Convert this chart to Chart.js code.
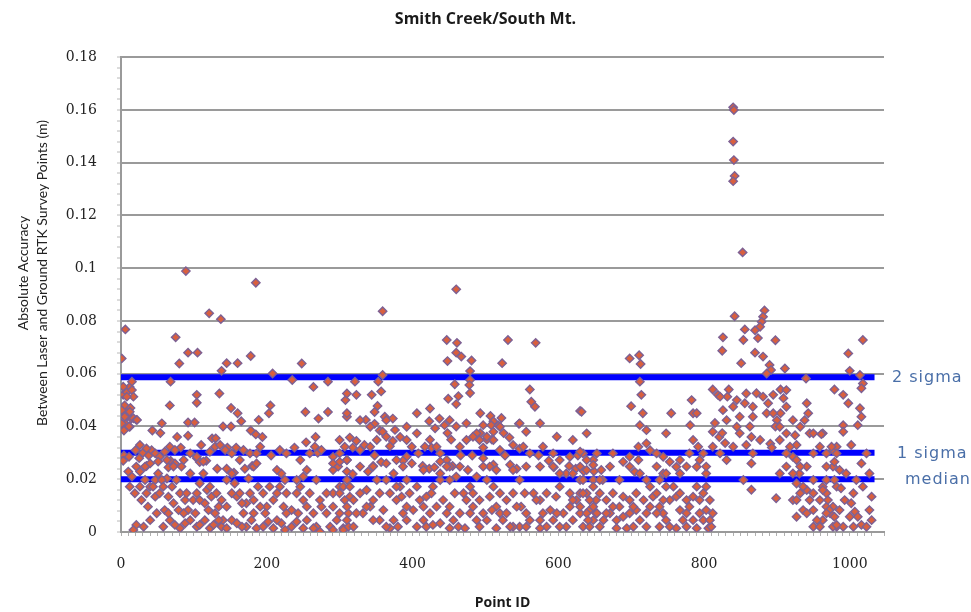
<!DOCTYPE html>
<html>
<head>
<meta charset="utf-8">
<script src="https://cdn.jsdelivr.net/npm/chart.js@4.4.1/dist/chart.umd.min.js"></script>
<style>
  html, body { margin: 0; padding: 0; background: #fff; }
  #wrap { width: 971px; height: 612px; }
</style>
</head>
<body>
<div id="wrap"><canvas id="accChart" width="971" height="612"></canvas></div>
<script>
const chartTitle = 'Smith Creek/South Mt.';
const yTitleLines = ['Absolute Accuracy', 'Between Laser and Ground RTK Survey Points (m)'];
const xTitle = 'Point ID';

// reference lines (m)
const refNames = ['2 sigma', '1 sigma', 'median'];
const refValues = [0.0587, 0.0300, 0.0200];
const refRange = [0, 1034];

// x / y axis ranges
const xRange = [0, 1047];
const yRange = [0, 0.18];

// [point id, absolute accuracy (m)]
const surveyPoints = [
  // ids 0 - 310, upper part
  [185,0.0945],[89,0.0989],[121,0.0829],[137,0.0807],[6,0.0768],[75,0.0738],[1,0.0658],[92,0.068],[105,0.068],
  [80,0.0639],[145,0.064],[160,0.064],[178,0.0667],[138,0.0611],[208,0.0601],[248,0.0639],[235,0.0576],[68,0.057],
  [3,0.052],[8,0.053],[12,0.055],[15,0.057],[5,0.048],[2,0.045],[10,0.046],[14,0.043],[6,0.041],[9,0.044],[13,0.047],
  [3,0.0551],[15,0.0538],[17,0.0513],[8,0.0513],[1,0.0462],[12,0.0456],[5,0.0437],[17,0.0431],[1,0.0411],[12,0.0399],[21,0.0425],
  [104,0.052],[104,0.049],[135,0.0525],[264,0.055],[284,0.057],[308,0.050],[67,0.048],[253,0.0455],[271,0.043],
  [284,0.0455],[151,0.047],[160,0.045],[165,0.042],[205,0.048],[203,0.045],[22,0.0425],[11,0.040],[4,0.0385],
  [56,0.0412],[43,0.0385],[54,0.0375],[92,0.0415],[101,0.0415],[140,0.040],[151,0.040],[178,0.0385],[189,0.0425],
  [185,0.037],[194,0.036],[77,0.036],[92,0.0365],[110,0.033],[125,0.0355],[130,0.0355],[82,0.032],[146,0.032],
  [158,0.032],[238,0.032],[254,0.034],[267,0.036],[206,0.029],[270,0.030],[4,0.029],[3,0.027],[11,0.0285],[20,0.031],
  [25,0.028],[30,0.030],[38,0.029],[42,0.031],[35,0.025],[68,0.027],[74,0.026],[65,0.0245],[104,0.028],[108,0.0265],
  [117,0.027],[132,0.024],[145,0.024],[155,0.0225],[170,0.024],[180,0.025],
  [26,0.033],[35,0.0317],[47,0.0298],[53,0.0285],[60,0.0304],[67,0.0323],[74,0.0311],[40,0.026],[51,0.0267],[33,0.0248],
  [63,0.0273],[72,0.0248],[86,0.0273],[95,0.0298],[104,0.0285],[113,0.0267],[122,0.0304],[129,0.0323],[136,0.033],
  [143,0.0311],[152,0.0298],[163,0.0273],[168,0.0311],[177,0.0298],[186,0.0298],[191,0.0323],[218,0.0311],[227,0.0298],
  [246,0.0273],[259,0.0298],[266,0.0323],[275,0.0311],[291,0.0285],[300,0.0298],[310,0.0273],[291,0.0235],
  // ids 0 - 315, lower part
  [10,0.0229],[15,0.021],[21,0.0248],[26,0.0229],[33,0.0197],[40,0.0172],[47,0.0197],[51,0.0222],[35,0.0147],
  [28,0.0121],[37,0.0096],[47,0.0134],[53,0.0147],[21,0.0027],[17,0.0008],[31,0.002],[63,0.0203],[70,0.0172],
  [76,0.0197],[83,0.0248],[81,0.0147],[88,0.0121],[92,0.0083],[99,0.0121],[108,0.0184],[118,0.0159],[115,0.0109],
  [120,0.0083],[124,0.0134],[129,0.0071],[134,0.0096],[104,0.0147],[95,0.0222],[113,0.0222],[145,0.0197],[152,0.0222],
  [159,0.0134],[163,0.0147],[168,0.0071],[172,0.0109],[182,0.0121],[188,0.0172],[195,0.0147],[200,0.0096],[209,0.0121],
  [218,0.0172],[220,0.0222],[227,0.0147],[234,0.0083],[241,0.0197],[246,0.0172],[250,0.0121],[259,0.0147],[268,0.0197],
  [275,0.0096],[282,0.0071],[291,0.0147],[298,0.0248],[300,0.0172],[310,0.0197],[314,0.0134],[67,0.0045],[74,0.0027],
  [81,0.0014],[88,0.0033],[95,0.0045],[104,0.002],[108,0.0027],[122,0.0014],[138,0.002],[145,0.0014],[152,0.0045],
  [159,0.0033],[172,0.002],[186,0.0014],[202,0.0039],[209,0.0014],[220,0.0033],[225,0.0008],[234,0.002],[250,0.0014],
  [268,0.002],[273,0.0001],[287,0.002],[296,0.0045],[305,0.0014],[60,0.0083],[65,0.0071],[140,0.0045],[175,0.0203],
  [182,0.0248],[186,0.026],[214,0.0235],[225,0.0197],[255,0.0235],[291,0.026],[300,0.0266],[310,0.0229],[250,0.021],
  [12,0.0172],[19,0.0147],[26,0.0172],[44,0.0172],[56,0.0197],[58,0.0172],[65,0.0134],[72,0.0109],[79,0.0083],
  [86,0.0071],[90,0.0147],[102,0.0071],[108,0.0121],[122,0.0172],[131,0.0147],[138,0.0121],[145,0.0096],[152,0.0147],
  [156,0.0184],[166,0.0109],[177,0.0147],[182,0.0071],[191,0.0096],[198,0.0071],[204,0.0172],[214,0.0147],[223,0.0096],
  [227,0.0071],[241,0.0147],[243,0.0071],[255,0.0096],[264,0.0071],[273,0.0121],[282,0.0147],[291,0.0096],[300,0.0071],
  [307,0.0121],[312,0.0071],[49,0.0071],[40,0.0045],[58,0.002],[115,0.0045],[127,0.0027],[134,0.0045],[166,0.002],
  [179,0.0045],[195,0.002],[214,0.0045],[241,0.0039],[255,0.0045],[264,0.0014],[291,0.0008],[312,0.002],
  // ids 300 - 650, upper part
  [460,0.092],[359,0.0837],[447,0.0728],[461,0.0717],[531,0.0728],[569,0.0717],[523,0.064],[448,0.0648],[460,0.068],
  [467,0.0665],[481,0.065],[479,0.061],[479,0.0576],[478,0.0557],[479,0.0527],[458,0.056],[463,0.0515],[449,0.0505],
  [460,0.0485],[359,0.0595],[353,0.057],[357,0.0533],[321,0.057],[310,0.0525],[323,0.052],[344,0.052],[561,0.054],
  [563,0.0494],[568,0.0475],[630,0.0459],[406,0.045],[424,0.0468],[310,0.0437],[352,0.0478],[348,0.0455],[362,0.0437],
  [373,0.043],[336,0.0425],[348,0.041],[355,0.0385],[359,0.038],[423,0.042],[437,0.043],[444,0.0405],[448,0.0375],
  [453,0.035],[460,0.040],[493,0.045],[507,0.044],[511,0.042],[497,0.0405],[508,0.0405],[522,0.0432],[518,0.0404],
  [511,0.038],[525,0.0375],[509,0.035],[546,0.041],[533,0.0358],[538,0.033],[547,0.0316],[493,0.0375],[502,0.035],
  [497,0.032],[314,0.0358],[323,0.0345],[318,0.032],[334,0.033],[383,0.036],[373,0.0345],[369,0.0325],[424,0.035],
  [426,0.032],[627,0.029],[318,0.022],[392,0.0285],[387,0.027],[348,0.029],[357,0.0265],[346,0.025],[414,0.025],
  [423,0.024],[430,0.0245],[455,0.025],[466,0.029],[482,0.029],[497,0.028],[511,0.0255],[527,0.029],[534,0.0255],
  [543,0.024],[573,0.029],[587,0.027],[594,0.0245],[615,0.025],[624,0.024],[635,0.023],[649,0.023],
  [310,0.045],[328,0.0424],[342,0.0399],[364,0.0424],[376,0.0387],[392,0.0399],[406,0.0374],[431,0.0393],[451,0.0424],
  [474,0.0412],[488,0.0374],[520,0.0399],[547,0.0412],[556,0.038],[575,0.0412],[598,0.0361],[620,0.0349],[639,0.0374],
  [300,0.0349],[307,0.0323],[328,0.0311],[342,0.0323],[351,0.0349],[364,0.0361],[392,0.0349],[399,0.0323],[408,0.0298],
  [417,0.0323],[433,0.0323],[438,0.0298],[447,0.0273],[465,0.0323],[474,0.0349],[483,0.0361],[492,0.0349],[502,0.0361],
  [511,0.0349],[520,0.0311],[552,0.0323],[561,0.0298],[579,0.0323],[593,0.0298],[602,0.0273],[616,0.0285],[634,0.0298],
  [648,0.0273],[310,0.0273],[328,0.0248],[339,0.0229],[346,0.0248],[364,0.026],[378,0.0273],[387,0.0248],[399,0.026],
  [438,0.0267],[451,0.0248],[465,0.0248],[476,0.0235],[506,0.0248],[515,0.0235],[538,0.0235],[556,0.0248],[575,0.0248],
  [593,0.0248],[611,0.0222],[639,0.0235],
  // ids 300 - 650, lower part
  [300,0.0147],[305,0.0172],[310,0.0096],[319,0.0121],[328,0.0147],[337,0.0159],[342,0.0096],[332,0.0071],[310,0.0045],
  [319,0.002],[305,0.0008],[364,0.0197],[374,0.0222],[369,0.0147],[378,0.0121],[383,0.0172],[392,0.0197],[396,0.0147],
  [387,0.0071],[374,0.0045],[369,0.0014],[380,0.002],[392,0.0045],[401,0.0083],[410,0.0121],[419,0.0134],[428,0.0172],
  [438,0.0197],[433,0.0096],[424,0.0071],[415,0.0045],[406,0.002],[438,0.0033],[447,0.0071],[456,0.0045],[463,0.002],
  [470,0.0147],[479,0.0172],[474,0.0121],[483,0.0096],[488,0.0045],[497,0.0071],[492,0.002],[502,0.0197],[511,0.0172],
  [506,0.0134],[515,0.0096],[520,0.0071],[529,0.0121],[524,0.0045],[515,0.0014],[538,0.0147],[547,0.0197],[549,0.0096],
  [556,0.0071],[561,0.0045],[566,0.0147],[575,0.0121],[579,0.0071],[589,0.0083],[584,0.002],[593,0.0045],[597,0.0134],
  [602,0.0172],[607,0.0071],[616,0.0096],[620,0.0045],[611,0.002],[625,0.0121],[630,0.0071],[639,0.0147],[643,0.0083],
  [648,0.0045],[652,0.0121],[575,0.0014],[547,0.002],[538,0.002],[351,0.0197],[355,0.0147],[346,0.0121],[355,0.0045],
  [451,0.0197],[460,0.021],[447,0.0248],[438,0.0222],[488,0.021],[497,0.0248],[415,0.0235],[620,0.0222],[602,0.0222],
  [630,0.0197],[648,0.0197],
  [314,0.0172],[323,0.0071],[337,0.0096],[346,0.0045],[360,0.0083],[364,0.002],[378,0.0172],[385,0.0134],[392,0.0096],
  [406,0.0172],[415,0.0096],[419,0.002],[426,0.0147],[442,0.0121],[451,0.0096],[458,0.0147],[465,0.0071],[472,0.0014],
  [479,0.0071],[483,0.0147],[492,0.0121],[502,0.0045],[509,0.0083],[520,0.0147],[529,0.0071],[534,0.002],[543,0.0096],
  [554,0.0147],[556,0.002],[570,0.0121],[575,0.0045],[584,0.0147],[598,0.0071],[602,0.002],[616,0.0147],[620,0.0121],
  [630,0.0147],[634,0.002],[643,0.002],[652,0.0071],[451,0.0014],[428,0.0027],
  // ids 630 - 1000, upper part
  [840,0.161],[841,0.160],[840,0.148],[841,0.141],[842,0.135],[840,0.133],[853,0.106],
  [842,0.0818],[883,0.084],[881,0.0816],[879,0.0797],[877,0.0778],[856,0.0768],[854,0.0728],[870,0.0765],[874,0.0735],
  [898,0.0727],[826,0.0738],[825,0.0687],[698,0.0658],[711,0.067],[713,0.0637],[851,0.064],[870,0.068],[881,0.0665],
  [890,0.0633],[892,0.0614],[886,0.0601],[911,0.062],[940,0.0582],[712,0.057],[714,0.052],[700,0.0477],[716,0.045],
  [712,0.0405],[721,0.0386],[755,0.045],[783,0.05],[785,0.045],[781,0.0405],[790,0.045],[632,0.0456],[812,0.054],
  [819,0.052],[832,0.0513],[834,0.054],[845,0.05],[856,0.0488],[815,0.0413],[812,0.038],[821,0.036],[829,0.0337],
  [825,0.0375],[867,0.0437],[863,0.04],[865,0.036],[858,0.033],[867,0.0298],[865,0.026],[872,0.0526],[881,0.0513],
  [888,0.0488],[895,0.052],[905,0.054],[909,0.0507],[913,0.0475],[905,0.045],[900,0.0424],[898,0.04],[891,0.0335],
  [893,0.032],[925,0.0367],[927,0.033],[913,0.0298],[922,0.0285],[931,0.0222],[945,0.0374],[950,0.0374],[963,0.0374],
  [941,0.0488],[943,0.045],[938,0.0424],[979,0.054],[968,0.0298],[977,0.031],[854,0.0197],[865,0.016],[899,0.0128],
  [630,0.0304],[634,0.0197],[648,0.0254],[659,0.0235],[661,0.0197],[689,0.0266],[698,0.0285],[710,0.0323],[721,0.0336],
  [726,0.031],[735,0.0298],[705,0.0228],[748,0.0374],[744,0.0285],[753,0.0266],[762,0.0247],[767,0.0222],[785,0.0349],
  [792,0.0323],[780,0.0298],[799,0.0298],[790,0.0247],[803,0.0222],
  [822,0.0513],[840,0.0475],[858,0.0525],[867,0.0475],[886,0.045],[913,0.0538],[922,0.0424],[932,0.0399],[904,0.0399],
  [895,0.045],[826,0.0462],[849,0.0437],
  [639,0.0273],[653,0.0298],[671,0.0248],[675,0.0298],[698,0.0248],[710,0.0273],[735,0.0248],[744,0.0222],[767,0.0273],
  [776,0.0248],[794,0.0273],[803,0.0248],[812,0.0323],[822,0.0298],[831,0.0273],[840,0.0323],[845,0.0399],[831,0.0424],
  [849,0.0374],[877,0.0349],[904,0.0349],[913,0.0374],[918,0.0323],[927,0.0273],[941,0.0248],[950,0.0298],[959,0.0323],
  [977,0.0248],[982,0.0323],[630,0.0248],[712,0.0222],
  // ids 630 - 1000, lower part
  [634,0.0147],[643,0.0121],[639,0.0071],[648,0.0096],[657,0.0147],[666,0.0121],[662,0.0045],[671,0.0071],[675,0.0147],
  [684,0.0096],[680,0.0045],[689,0.0134],[698,0.0071],[694,0.0014],[703,0.002],[707,0.0083],[707,0.0147],[721,0.0197],
  [726,0.0172],[730,0.0134],[735,0.0147],[739,0.0096],[744,0.0071],[748,0.0045],[739,0.002],[753,0.0121],[758,0.0172],
  [762,0.0134],[767,0.0083],[771,0.0045],[762,0.0014],[776,0.002],[780,0.0096],[785,0.0134],[790,0.0172],[794,0.0071],
  [799,0.0045],[803,0.0083],[808,0.0121],[806,0.0014],[790,0.0014],[810,0.002],[712,0.0045],[721,0.0071],[684,0.0197],
  [657,0.0197],[648,0.0172],[927,0.0184],[932,0.0147],[922,0.0121],[941,0.0159],[945,0.0121],[950,0.0083],[959,0.0121],
  [968,0.0147],[973,0.0071],[963,0.0045],[977,0.0096],[982,0.002],[950,0.002],[927,0.0058],[936,0.0083],[913,0.0248],
  [904,0.0222],[922,0.0222],[932,0.0248],[950,0.0197],[963,0.0172],[982,0.0172],
  [630,0.0096],[641,0.0045],[653,0.0071],[657,0.002],[666,0.0071],[675,0.0096],[680,0.0014],[689,0.0058],[698,0.0121],
  [703,0.0096],[717,0.0121],[721,0.002],[726,0.0096],[735,0.0071],[744,0.0121],[748,0.0172],[753,0.002],[767,0.0147],
  [776,0.0121],[776,0.0071],[785,0.0045],[794,0.0121],[799,0.0147],[808,0.0045],[803,0.0172],[812,0.0071],[739,0.0197],
  [748,0.0222],[927,0.0121],[941,0.0071],[950,0.0147],[955,0.0045],[968,0.0096],[977,0.002],[959,0.002],[936,0.0172],
  [968,0.0197],
  // ids 960 - 1035
  [1018,0.0728],[998,0.0677],[1000,0.0611],[1014,0.0595],[1018,0.0563],[1016,0.0545],[991,0.052],[998,0.0488],
  [1014,0.0469],[1016,0.0437],[1011,0.0405],[991,0.0405],[991,0.038],[961,0.0371],[1002,0.033],[975,0.0323],
  [1023,0.0298],[1016,0.026],[979,0.0266],[986,0.0235],[988,0.0166],[979,0.0197],[963,0.0159],[970,0.0121],
  [972,0.0083],[979,0.0058],[993,0.0121],[1002,0.0109],[1007,0.0077],[1000,0.0058],[1030,0.0134],[1027,0.0083],
  [1030,0.0045],[1016,0.0027],[991,0.002],[1005,0.002],
  [968,0.0248],[982,0.0298],[995,0.0222],[1009,0.0197],[1005,0.0147],[1018,0.0172],[1027,0.0222],[968,0.0071],
  [986,0.0083],[1011,0.0058],[1023,0.002],[982,0.0027]
];

const isMultiple = (v, step) => Math.abs(v / step - Math.round(v / step)) < 1e-6;

// text that sits outside the axes: rotated y title and the labels of the reference lines
const sideText = {
  id: 'sideText',
  afterDraw(chart) {
    const c = chart.ctx;
    const y = chart.scales.y;
    c.save();
    c.fillStyle = '#4a6fa8';
    c.font = "16px 'DejaVu Sans'";
    c.letterSpacing = '1px';
    c.textBaseline = 'middle';
    c.textAlign = 'left';
    const xs = [892, 897, 905];
    refNames.forEach((name, i) => {
      c.fillText(name, xs[i], y.getPixelForValue(refValues[i]) + 1);
    });
    c.restore();

    c.save();
    c.translate(23, 273);
    c.rotate(-Math.PI / 2);
    c.fillStyle = '#222';
    c.font = "14px Lato";
    c.textAlign = 'center';
    c.textBaseline = 'middle';
    c.fillText(yTitleLines[0], 0, 0);
    c.fillText(yTitleLines[1], 0, 19);
    c.restore();
  }
};

const ctx = document.getElementById('accChart').getContext('2d');
new Chart(ctx, {
  type: 'scatter',
  data: {
    datasets: [
      {
        label: 'Absolute accuracy',
        data: surveyPoints.map(p => ({ x: p[0], y: p[1] })),
        pointStyle: 'rectRot',
        pointRadius: 4.2,
        pointBorderWidth: 1.4,
        backgroundColor: '#d95f3e',
        borderColor: '#7d6194',
        order: 0
      },
      ...refValues.map((v, i) => ({
        type: 'line',
        label: refNames[i],
        data: [{ x: refRange[0], y: v }, { x: refRange[1], y: v }],
        borderColor: '#0000ff',
        borderWidth: 6,
        pointRadius: 0,
        order: 1
      }))
    ]
  },
  options: {
    responsive: false,
    animation: false,
    layout: { padding: 0 },
    plugins: {
      legend: { display: false },
      tooltip: { enabled: false },
      title: {
        display: true,
        text: chartTitle,
        color: '#1a1a1a',
        font: { family: "'Open Sans'", size: 16, weight: 'bold' },
        padding: { top: 10, bottom: 28 }
      }
    },
    scales: {
      x: {
        type: 'linear',
        min: xRange[0],
        max: xRange[1],
        afterFit: s => { s.height = 80; },
        ticks: {
          stepSize: 10,
          autoSkip: false,
          maxRotation: 0,
          padding: 20,
          color: '#222',
          font: { family: "'DejaVu Serif'", size: 14 },
          callback: v => (isMultiple(v, 200) ? String(v) : '')
        },
        grid: { drawOnChartArea: false, tickLength: 4, tickColor: '#b0b0b0', tickWidth: 1 },
        border: { color: '#9a9a9a', width: 2 },
        title: {
          display: true,
          text: xTitle,
          color: '#1a1a1a',
          font: { family: "'Open Sans'", size: 14, weight: 'bold' },
          padding: { top: 0, bottom: 1 }
        }
      },
      y: {
        min: yRange[0],
        max: yRange[1],
        afterFit: s => { s.width = 121; },
        ticks: {
          stepSize: 0.004,
          autoSkip: false,
          padding: 20,
          color: '#222',
          font: { family: "'DejaVu Serif'", size: 14 },
          callback: v => (isMultiple(v, 0.02) ? String(+v.toFixed(2)) : '')
        },
        grid: {
          color: c => (c.tick && isMultiple(c.tick.value, 0.02) && c.tick.value > 0 ? '#9a9a9a' : 'rgba(0,0,0,0)'),
          lineWidth: 2,
          tickLength: 4,
          tickColor: '#b8b8b8',
          tickWidth: 1
        },
        border: { color: '#9a9a9a', width: 2 }
      },
      yPad: {
        position: 'right',
        display: true,
        afterFit: s => { s.width = 87; },
        ticks: { display: false },
        grid: { display: false },
        border: { display: false }
      }
    }
  },
  plugins: [sideText]
});
</script>
</body>
</html>
